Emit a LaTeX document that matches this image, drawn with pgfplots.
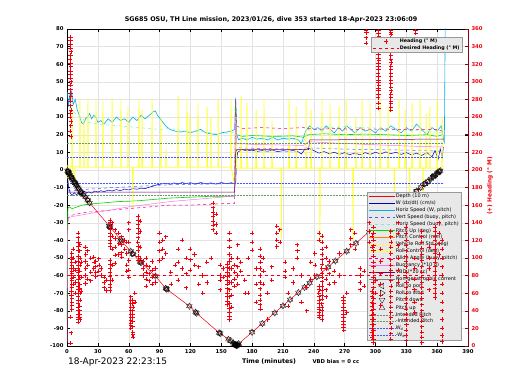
\documentclass[border=0pt]{standalone}
\usepackage{pgfplots}
\pgfplotsset{compat=1.18}
\usepackage{fontspec}
\setmainfont{DejaVu Sans}
\definecolor{vbd}{rgb}{0.42,0,0.45}
\definecolor{maroonax}{rgb}{0.55,0,0.1}
\definecolor{hred}{rgb}{0.95,0.0,0.05}
\definecolor{hzbuoy}{rgb}{0.45,0.92,0.92}
\definecolor{pinkb}{rgb}{1,0.45,0.9}
\definecolor{wblue}{rgb}{0,0,0.75}
\definecolor{bblue}{rgb}{0.25,0.35,1}
\definecolor{ylw}{rgb}{1,1,0.2}
\newcommand\tkf{\fontsize{5.3}{6}\selectfont\bfseries}
\newcommand\lgf{\fontsize{4.95}{5}\selectfont}
\pgfplotsset{
 longlegend/.style={legend image code/.code={\draw[mark repeat=2,mark phase=2,##1] plot coordinates {(0cm,0cm) (0.45cm,0cm) (0.9cm,0cm)};}},
 marklegend/.style={legend image code/.code={\draw[##1] plot coordinates {(0.45cm,0cm)};}},
 hdg/.style={hred, only marks, mark=+, mark size=2.1pt, mark options={solid, line width=0.8pt}},
 hdgf/.style={hdg, forget plot},
}
\begin{document}
\begin{tikzpicture}
\useasboundingbox (-67pt,-44pt) rectangle (453pt,346pt);
\begin{axis}[
 scale only axis, width=401pt, height=317pt,
 xmin=0,xmax=390,ymin=-100,ymax=80,
 xtick={0,30,...,390}, ytick={-100,-90,...,80},
 grid=major, grid style={gray!22, line width=0.3pt},
 tick style={black, line width=0.3pt}, major tick length=3pt,
 axis line style={line width=0.4pt},
 tick label style={font=\tkf},
 /pgf/number format/assume math mode=true,
 legend style={at={(rel axis cs:0.9825,0.019)}, anchor=south east, fill=gray!18, draw=gray!80,
   font=\lgf, inner sep=1.5pt, row sep=1.3pt, nodes={inner sep=0.5pt, text height=3.6pt, text depth=1pt}, cells={anchor=west}},
 longlegend,
]
% 1 depth
\addplot[hred, line width=0.5pt] coordinates {(0,0)(8,-7.5)(13,-12.4)(22,-18.7)(42,-32.5)(53,-40.3)(71,-52.2)(86,-60.3)(96,-67.3)(120,-77.8)(126,-81.4)(148,-92.5)(159,-97)(165,-99.7)(363,-0.5)};
\addlegendentry{Depth (10 m)}
% 2 W
\addplot[wblue, line width=0.5pt] coordinates {(0.5,-3)(1.5,-10)(3,-13)(5,-14.5)(7,-13)(9,-14)(11,-13.5)(13,-14.2)(15,-13)(17,-12.2)(19,-13)(21,-12.5)(24,-13.2)(27,-12)(30,-12.6)(33,-11.8)(36,-12.4)(40,-11.5)(44,-12)(48,-11.2)(52,-11.8)(56,-10.9)(60,-11.4)(64,-10.6)(68,-11)(72,-10.4)(76,-10.6)(80,-9.8)(84,-9.2)(88,-8.4)(92,-8)(96,-7.6)(100,-8.2)(104,-7.4)(108,-8)(112,-7.2)(116,-7.8)(120,-7.3)(125,-8)(130,-7.2)(135,-7.9)(140,-7.4)(145,-8.1)(150,-7.2)(155,-7.8)(160,-7.3)(163,-8)(164,-8)(165,6)(166,10)(170,11.5)(175,10.8)(180,11.2)(185,10.5)(190,11)(195,10.6)(200,11.1)(205,10.4)(210,10.9)(215,10.6)(220,11)(225,10.2)(228,9)(231,11.5)(235,12.2)(240,11)(245,9.5)(250,10.4)(255,9.2)(260,10)(265,8.8)(270,9.8)(275,8.6)(280,9.6)(285,8.5)(290,9.8)(295,8.8)(300,10)(305,9)(310,10.2)(315,9.2)(320,10)(325,8.8)(330,9.8)(335,8.5)(340,9.5)(345,8.2)(350,9.8)(355,7.5)(358,11)(361,6)(363,12)(365,7)(366,13)};
\addlegendentry{W (dz/dt) (cm/s)}
% 3 horiz speed W
\addplot[cyan, line width=0.6pt] coordinates {(0.5,44)(1.5,36)(2.5,42)(3.5,38)(4.5,45)(6,37)(8,40)(10,34)(12,31)(14,27)(16,26)(18,29)(20,30)(22,32)(24,29)(26,31)(28,30)(30,27)(33,28)(36,26)(40,29)(44,27)(48,30)(52,28)(56,29)(60,27)(64,30)(68,28)(72,31)(76,29)(80,31)(84,33)(86,33.5)(88,31)(92,28)(96,25)(100,23)(105,22)(110,21.5)(115,22)(120,21)(125,22)(130,23)(135,21)(140,20.5)(145,20)(150,21)(155,21.5)(160,22)(163,23)(164,41)(165,20)(167,17)(170,18)(175,17)(180,18.5)(185,17.5)(190,18)(195,17)(200,18.5)(205,17)(210,18)(215,17.5)(220,18)(225,17)(228,15)(232,22)(236,25)(240,23)(244,24)(248,22)(252,25)(256,23)(260,21)(264,24)(268,22)(272,25)(276,23)(280,21)(285,24)(290,22)(295,23)(300,21)(305,24)(310,22)(315,25)(320,23)(325,21)(330,24)(335,22)(340,26)(345,23)(350,20)(355,24)(360,22)(364,25)(367,15)(368,95)};
\addlegendentry{Horiz Speed (W, pitch)}
% 4 vert speed buoy
\addplot[bblue, dashed, line width=0.5pt] coordinates {(1,-12)(5,-11.8)(10,-11.5)(20,-11)(30,-10.6)(40,-10.2)(50,-9.9)(60,-9.6)(70,-9.3)(80,-9)(90,-8.7)(100,-8.5)(120,-8.2)(140,-8)(160,-7.8)(163,-7.8)(164,8)(166,12.5)(180,12.3)(200,12)(220,11.8)(228,11.5)(232,12.5)(250,12.2)(270,11.8)(290,11.6)(310,11.4)(330,11.2)(350,11)(365,10.5)};
\addlegendentry{Vert Speed (buoy, pitch)}
% 5 horiz speed buoy
\addplot[hzbuoy, dashed, line width=0.5pt] coordinates {(2,35)(6,33)(10,31)(15,29)(20,27)(30,26)(40,25.5)(50,25)(60,24.5)(70,24)(80,23.5)(90,23)(100,23.5)(110,22.5)(120,21.5)(130,22)(140,21)(150,20.5)(160,21)(164,22)(166,18)(180,17.5)(200,17)(220,17.5)(230,16)(235,23)(250,24)(270,24.5)(290,24)(310,23.5)(330,23)(350,22)(365,21)};
\addlegendentry{Horiz Speed (buoy, pitch)}
% 6 pitch
\addplot[green!85!black, line width=0.6pt] coordinates {(0,-85)(0.3,-50)(0.8,-22)(2,-21)(5,-22)(10,-21)(15,-20)(20,-19.5)(30,-19)(40,-18.5)(50,-18)(60,-17.8)(70,-17.5)(80,-17)(90,-16.5)(100,-16)(120,-15.5)(140,-15)(160,-15)(163,-14.5)(164,38)(165,20)(170,19)(180,19.5)(200,19)(220,19.3)(230,18.5)(235,20)(250,20.5)(270,20)(290,20.3)(310,20)(330,19.5)(350,20)(360,19)(365,20)};
\addlegendentry{Pitch Up (deg)}
\addlegendimage{orange, line width=0.5pt}
\addlegendentry{Pitch Control (mm)}
\addlegendimage{yellow!60!white, line width=0.5pt}
\addlegendentry{Vehicle Roll Std (deg)}
% 9 roll control
\addplot[ylw, line width=0.9pt] coordinates {(0,-5)(1,3)(2,-6)(3,2)(4.7,1.5)(4.9,36)(5.2,1.5)(7,-7)(8,2)(12.4,1.5)(12.6,40)(12.9,1.5)(16.3,1.5)(16.5,30)(16.8,1.5)(20.2,1.5)(20.4,41)(20.7,1.5)(28,1.5)(28.2,40)(28.5,1.5)(34.8,1.5)(35,39)(35.3,1.5)(43.6,1.5)(43.8,41)(44.1,1.5)(52.3,1.5)(52.5,40)(52.8,1.5)(59.1,1.5)(59.3,36)(59.6,1.5)(63.8,1.5)(64,-22)(64.3,1.5)(69.8,1.5)(70,40)(70.3,1.5)(72.8,1.5)(73,34)(73.3,1.5)(82.5,1.5)(82.7,40)(83,1.5)(91.2,1.5)(91.4,30)(91.7,1.5)(96.1,1.5)(96.3,12)(96.6,1.5)(107.8,1.5)(108,42)(108.3,1.5)(116.5,1.5)(116.7,40)(117,1.5)(119.4,1.5)(119.6,32)(119.9,1.5)(127.2,1.5)(127.4,38)(127.7,1.5)(136,1.5)(136.2,36)(136.5,1.5)(139.8,1.5)(140,30)(140.3,1.5)(146.8,1.5)(147,40)(147.3,1.5)(159.3,1.5)(159.5,40)(159.8,1.5)(163,-9)(163.5,1.5)(164,30)(165,1)(169.1,1)(169.3,42)(169.6,1)(174.8,1)(175,38)(175.3,1)(183.7,1)(183.9,34)(184.2,1)(191.4,1)(191.6,40)(191.9,1)(199.2,1)(199.4,28)(199.7,1)(208.3,1)(208.5,-39)(208.8,1)(215.8,1)(216,40)(216.3,1)(222.6,1)(222.8,36)(223.1,1)(232.3,1)(232.5,40)(232.8,1)(237.2,1)(237.4,34)(237.7,1)(245.8,1)(246,-41)(246.3,1)(247.8,1)(248,40)(248.3,1)(255.6,1)(255.8,38)(256.1,1)(264.4,1)(264.6,36)(264.9,1)(271.2,1)(271.4,40)(271.7,1)(278,1)(278.2,-40)(278.5,1)(280.8,1)(281,30)(281.3,1)(286.8,1)(287,40)(287.3,1)(294.5,1)(294.7,38)(295,1)(304.3,1)(304.5,40)(304.8,1)(312.1,1)(312.3,36)(312.6,1)(318,1)(318.2,-22)(318.5,1)(322.8,1)(323,40)(323.3,1)(328.6,1)(328.8,34)(329.1,1)(333,1)(333.2,-20)(333.5,1)(335.4,1)(335.6,38)(335.9,1)(343.2,1)(343.4,40)(343.7,1)(346,1)(346.2,-18)(346.5,1)(349,1)(349.2,32)(349.5,1)(352.8,1)(353,36)(353.3,1)(359.8,1)(360,40)(360.3,1)(364.6,1)(364.8,30)(365,1)};
\addlegendentry{Roll Control (deg)}
% 10 glide angle
\addplot[magenta, dashed, line width=0.5pt] coordinates {(0.5,-28)(3,-26)(10,-25)(20,-24)(30,-23.5)(40,-23)(50,-22.5)(60,-22)(70,-21.5)(80,-21)(90,-20.5)(100,-20)(120,-20)(140,-19.5)(160,-19)(163,-19)(164,40)(165,25)(170,23.5)(190,24)(210,23.5)(230,24)(240,23)(260,23.5)(280,23)(300,23.2)(320,23)(340,22.8)(360,23)(365,22)};
\addlegendentry{Glide Angle (buoy, pitch)}
% 11 buoyancy
\addplot[pinkb, line width=0.5pt] coordinates {(0,-98)(0.3,-60)(0.8,-30)(2,-27)(5,-26.5)(10,-26)(20,-25)(40,-23)(60,-21)(80,-19.5)(100,-18)(120,-17)(140,-16)(160,-15)(163,-15)(164,30)(165,15)(180,14.5)(200,14.2)(220,14)(230,13.8)(235,16)(250,15.5)(270,15)(290,14.5)(310,14)(330,13.6)(350,13.2)(365,13)};
\addlegendentry{Buoyancy (*10 g)}
% 12 VBD
\addplot[vbd, line width=0.5pt] coordinates {(1,-12.7)(163,-12.7)(164,10)(165,11.5)(235,11.5)(236,17)(366,17.5)};
\addlegendentry{VBD (*10 cc)}
\addlegendimage{gray, line width=0.5pt}
\addlegendentry{Non-geostrophic current}
% markers
\addplot[black, only marks, mark=triangle, mark size=3.3pt, mark options={rotate=90, line width=0.3pt}, marklegend] coordinates {(2,-2)(5,-5)(9,-8.5)(14,-13)(42,-32.5)(97,-67.8)(164,-99.4)(165,-99.7)(303,-30.7)(340,-12)(351,-6.5)(358,-3)(362,-1)};
\addlegendentry{Roll to port}
\addplot[black, only marks, mark=triangle, mark size=3.3pt, mark options={rotate=-90, line width=0.3pt}, marklegend] coordinates {(1,-1)(4,-4)(7,-6.8)(11,-10.5)(20,-17)(64,-47.6)(163,-99)(166,-99.3)(294,-35.2)(335,-14.5)(348,-8)(356,-4)(360,-2)};
\addlegendentry{Roll to stbd}
\addplot[black, only marks, mark=triangle, mark size=3.3pt, mark options={rotate=180, line width=0.3pt}, marklegend] coordinates {(0.5,-0.5)(1,-1)(1.5,-1.5)(2,-2)(3,-3)(4,-4)(5,-5)(6,-6)(7,-6.8)(8,-7.5)(9,-8.5)(10,-9.5)(11,-10.5)(13,-12.4)(14,-13)(16,-14.2)(18,-15.5)(20,-17)(22,-18.7)(41,-31.8)(42,-32.5)(52,-39.6)(53,-40.3)(62,-46.2)(64,-47.6)(71,-52.2)(72,-52.8)(86,-60.3)(96,-67.3)(97,-67.7)(119,-77.4)(125,-80.8)(126,-81.4)(148,-92.5)(149,-92.9)(157,-96.2)(159,-97)(162,-98.6)(163,-99)(163.5,-99.2)(164,-99.4)(164.5,-99.6)(165,-99.7)(165.5,-99.5)(166,-99.3)(167,-98.7)(180,-92.2)(190,-87.2)(202,-81.2)(210,-77.2)(217,-73.7)(225,-69.7)(231,-66.7)(236,-64.2)(243,-60.7)(254,-55.2)(261,-51.7)(272,-46.2)(281,-41.7)(294,-35.2)(303,-30.7)(318,-23)(322,-21)(330,-17)(335,-14.5)(340,-12)(344,-10)(348,-8)(351,-6.5)(354,-5)(356,-4)(358,-3)(360,-2)(362,-1)(363,-0.5)};
\addlegendentry{Pitch down}
\addplot[black, only marks, mark=triangle, mark size=3.3pt, mark options={line width=0.3pt}, marklegend] coordinates {(0.5,-0.5)(1,-1)(1.5,-1.5)(2,-2)(3,-3)(4,-4)(5,-5)(6,-6)(7,-6.8)(8,-7.5)(9,-8.5)(10,-9.5)(11,-10.5)(13,-12.4)(14,-13)(16,-14.2)(18,-15.5)(20,-17)(22,-18.7)(41,-31.8)(42,-32.5)(52,-39.6)(53,-40.3)(62,-46.2)(64,-47.6)(71,-52.2)(72,-52.8)(86,-60.3)(96,-67.3)(97,-67.7)(119,-77.4)(125,-80.8)(126,-81.4)(148,-92.5)(149,-92.9)(157,-96.2)(159,-97)(162,-98.6)(163,-99)(163.5,-99.2)(164,-99.4)(164.5,-99.6)(165,-99.7)(165.5,-99.5)(166,-99.3)(167,-98.7)(180,-92.2)(190,-87.2)(202,-81.2)(210,-77.2)(217,-73.7)(225,-69.7)(231,-66.7)(236,-64.2)(243,-60.7)(254,-55.2)(261,-51.7)(272,-46.2)(281,-41.7)(294,-35.2)(303,-30.7)(318,-23)(322,-21)(330,-17)(335,-14.5)(340,-12)(344,-10)(348,-8)(351,-6.5)(354,-5)(356,-4)(358,-3)(360,-2)(362,-1)(363,-0.5)};
\addlegendentry{Pitch up}
\addplot[gray!80!green, densely dotted, line width=0.5pt] coordinates {(0,15.3)(366,15.3)};
\addlegendentry{Intended Pitch}
\addplot[gray!80!green, densely dotted, line width=0.5pt] coordinates {(0,-14.5)(366,-14.5)};
\addlegendentry{-Intended Pitch}
\addplot[bblue, densely dotted, line width=0.5pt] coordinates {(0,7.4)(366,7.4)};
\addlegendentry{W\textsubscript{d}}
\addplot[bblue, densely dotted, line width=0.5pt] coordinates {(0,-7.6)(366,-7.6)};
\addlegendentry{-W\textsubscript{d}}
\end{axis}
\begin{axis}[
 scale only axis, width=401pt, height=317pt,
 xmin=0,xmax=390,ymin=0,ymax=360,
 axis x line=none, axis y line*=right,
 ytick={0,20,...,360},
 y axis line style={maroonax, line width=0.5pt},
 ytick style={maroonax, line width=0.4pt}, major tick length=3pt,
 yticklabel style={hred, font=\tkf},
 /pgf/number format/assume math mode=true,
 legend style={at={(rel axis cs:0.985,0.975)}, anchor=north east, fill=gray!18, draw=gray!80,
   font=\fontsize{4.8}{5}\selectfont\bfseries, inner sep=1.5pt, row sep=0.5pt, nodes={inner sep=0.6pt, text height=3.6pt, text depth=1pt}, cells={anchor=west}},
 longlegend,
]
\addplot[hdg, marklegend] coordinates {(3.5,351)(3.5,342)(3.8,334)(3.3,325)(3.6,317)(3.5,308)(3.8,300)(3.4,291)(3.6,283)(3.5,273)(3.9,268)(3.3,260)(4,255)(3.6,250)(3.2,244)(3.8,238)(3.5,33)(3.8,15)(3.5,3)(3.5,347)(3.5,338)(3.5,330)(3.5,321)(3.5,312)(3.5,304)(3.5,296)(3.5,287)(3.5,278)(3.5,264)};
\addlegendentry{Heading (° M)}
\addplot[hred, dashed, line width=0.5pt] coordinates {(0,80)(366,80)};
\addlegendentry{Desired Heading (° M)}
\addplot[hdgf] coordinates {(4.5,105)(4.5,98)(4.7,92)(4.5,85)(4.3,80)(4.6,74)(4.5,66)(4.4,58)(4.6,50)(4.5,41)(6,110)(6.2,100)(6,88)(6.3,78)(6,70)(8,95)(8.2,86)(8,72)(7.8,60)(4.5,101)(4.6,95)(4.4,88)(4.5,82)(4.6,77)(4.5,70)(4.4,62)(4.5,54)(4.6,46)};
\addplot[hdgf] coordinates {(11,128)(11.2,118)(11,108)(10.8,96)(11,88)(11.3,80)(11,72)(11.1,64)(10.9,56)(11,48)(11.2,40)(11,33)(11,27)(11,123)(11.1,113)(11,102)(11.1,92)(11,84)(11.1,76)(11,68)(11,60)(11.1,52)(11,44)(11,36)(11,30)};
\addplot[hdgf] coordinates {(12.5,115)(12.7,100)(12.5,85)(12.4,70)(12.6,60)(12.5,45)(12.5,36)(12.7,30)(14,95)(14.2,78)(14,62)(12.5,108)(12.6,92)(12.5,78)(12.5,65)(12.6,52)(12.5,40)(12.5,33)(18,112)(18.2,104)(18,96)(18.1,88)(17.9,80)(18,71)};
\addplot[hdgf] coordinates {(20,108)(20.2,92)(20,76)(23,100)(23.2,84)(23,74)(26,101)(26.2,95)(26,88)(28,96)(28.1,90)(28,84)(27.9,79)(31,99)(31.2,92)(31,85)(33,88)(33.1,80)(36,78)(36.2,72)(36,66)(38,75)(38.2,63)};
\addplot[hdgf] coordinates {(42,143)(42.1,136)(42,128)(41.9,120)(42,113)(42.2,97)(42,88)(42.1,79)(42,70)(41.9,63)(44,140)(44.1,125)(44,110)(44.2,92)(44,75)(42,140)(42,132)(42,124)(42,116)(42,93)(42,84)(42,74)(42,66)};
\addplot[hdgf] coordinates {(47,132)(47.1,122)(47,112)(46.9,103)(47,94)(50,128)(50.2,116)(50,104)(53,124)(53.1,115)(53,106)(53.2,101)(56,120)(56.1,110)(58,118)(58.2,105)(58,92)(58.1,85)(60,140)(60.1,132)(60,118)(60.2,97)(60,86)(60.1,78)};
\addplot[hdgf] coordinates {(62,56)(62.1,48)(62,40)(61.9,32)(62,26)(62.1,20)(64,52)(64.1,44)(64,36)(63.9,28)(64,16)(64.1,10)(66,60)(66.1,50)(62,52)(62,44)(62,36)(62,29)(62,23)(64,48)(64,40)(64,32)(64,22)(64,13)};
\addplot[hdgf] coordinates {(69,147)(69.1,138)(69,128)(68.9,118)(69,108)(69.1,97)(71,142)(71.1,130)(71,112)(71.2,100)(74,96)(74.1,88)(74,80)(69,143)(69,133)(69,123)(69,113)(69,102)};
\addplot[hdgf] coordinates {(77,100)(77.1,92)(77,84)(76.9,76)(77,68)(80,90)(80.1,82)(80,74)(83,96)(83.1,86)(83,78)(82.9,70)(86,88)(86.1,80)(86,72)};
\addplot[hdgf] coordinates {(90,128)(90.1,118)(90,108)(89.9,97)(93,120)(93.1,110)(93,100)(96,124)(96.1,105)(101,84)(101.1,70)(105,92)(108,110)(108.1,95)(108,75)(112,120)(112.1,88)};
\addplot[hdgf] coordinates {(116,100)(116.1,82)(116,66)(120,110)(120.1,98)(120,86)(124,104)(124.1,92)(128,90)(128.1,70)(132,80)(132.1,60)(136,95)(136.1,72)(140,100)};
\addplot[hdgf] coordinates {(142,162)(142.1,152)(142,142)(141.9,132)(145,150)(145.1,138)(145,128)(149,92)(149.1,80)(149,75)(148.9,64)(152,88)(152.1,78)(142,157)(142,147)(142,137)};
\addplot[hdgf] coordinates {(156,93)(156.1,84)(156,74)(155.9,65)(156,56)(156.1,47)(156,89)(156,79)(156,70)(156,60)(156,51)(160,100)(160.1,88)(160,72)(159.9,58)(160,44)(163,92)(163.1,84)(163,76)(162.9,68)};
\addplot[hdgf] coordinates {(158,128)(158.1,112)(158,96)(157.9,80)(158,64)(158.1,48)(158,38)(158,30)(158,120)(158,104)(158,88)(158,72)(158,56)(158,43)(158,34)};
\addplot[hdgf] coordinates {(166,115)(166.1,100)(166,90)(165.9,80)(166,70)(169,95)(169.1,85)(173,75)(173.1,60)(176,100)(176.1,60)(180,128)(180.1,118)(180,109)(184,88)(184.1,70)(184,50)};
\addplot[hdgf] coordinates {(188,110)(188.1,95)(188,80)(187.9,65)(188,52)(188.1,42)(188,102)(188,88)(188,72)(188,58)(188,47)(191,100)(191.1,85)(191,70)(195,60)(195.1,30)(199,90)(199.1,75)};
\addplot[hdgf] coordinates {(204,136)(204.1,128)(204,120)(203.9,113)(207,132)(207.1,118)(212,95)(212.1,85)(212,78)(215,60)(215.1,45)(220,88)(220.1,72)};
\addplot[hdgf] coordinates {(224,115)(224.1,108)(224,100)(228,80)(228.1,50)(233,66)(233.1,40)(237,95)(237.1,76)(241,105)(241.1,92)(241,80)};
\addplot[hdgf] coordinates {(245,128)(245.1,120)(245,68)(244.9,60)(245,52)(245.1,44)(245,38)(245,33)(245,64)(245,56)(245,48)(245,41)(245,35)};
\addplot[hdgf] coordinates {(248,125)(248.1,110)(248,98)(247.9,88)(248,78)(248.1,68)(248,58)(247.9,48)(248,40)(248.1,30)(248,118)(248,104)(248,93)(248,83)(248,73)(248,63)(248,53)(248,44)(248,35)};
\addplot[hdgf] coordinates {(252,112)(252.1,100)(252,88)(251.9,76)(252,64)(252.1,56)(255,96)(255.1,82)(255,70)(260,85)(260.1,72)(265,105)(265.1,80)};
\addplot[hdgf] coordinates {(269,55)(269.1,48)(269,40)(268.9,32)(269,25)(269.1,18)(269,52)(269,44)(269,36)(269,28)(269,21)(272,60)(272.1,38)(276,132)(276.1,122)(276,115)(280,128)(280.1,110)};
\addplot[hdgf] coordinates {(285,88)(285.1,80)(285,72)(284.9,64)(289,85)(289.1,68)(294,140)(294.1,130)(294,118)(300,75)(300.1,60)};
\addplot[hdgf] coordinates {(297,125)(297.1,112)(297,62)(296.9,50)(297,40)(297.1,30)(297,20)(297,10)(297,56)(297,45)(297,35)(297,25)(297,15)};
\addplot[hdgf] coordinates {(298,135)(298,120)(298.1,108)(298,95)(298,84)(298.1,72)(298,60)(298,48)(298.1,36)(298,24)(298,12)(298,4)(298,128)(298,114)(298,102)(298,90)(298,78)(298,66)(298,54)(298,42)(298,30)(298,18)(298,8)};
\addplot[hdgf] coordinates {(305,110)(305.1,96)(305,82)(304.9,70)(305,58)(305.1,46)(322,140)(322.1,128)(322,114)(321.9,100)(322,86)(322.1,72)};
\addplot[hdgf] coordinates {(315,130)(315.1,118)(315,105)(314.9,92)(315,80)(315.1,68)(315,56)(314.9,44)(315,32)(315.1,20)(315,8)(315,124)(315,112)(315,98)(315,86)(315,74)(315,62)(315,50)(315,38)(315,26)(315,14)};
\addplot[hdgf] coordinates {(330,135)(330.1,120)(330,108)(329.9,96)(330,84)(330.1,72)(330,60)(329.9,48)(330,36)(330.1,24)(330,12)(330,128)(330,114)(330,102)(330,90)(330,78)(330,66)(330,54)(330,42)(330,30)(330,18)(330,6)};
\addplot[hdgf] coordinates {(338,100)(338.1,88)(338,76)(337.9,64)(338,50)(338.1,38)(352,112)(352.1,100)(352,88)(351.9,76)(352,64)};
\addplot[hdgf] coordinates {(345,130)(345.1,118)(345,104)(344.9,90)(345,78)(345.1,66)(345,54)(344.9,40)(345,28)(345.1,16)(345,4)(345,124)(345,111)(345,97)(345,84)(345,72)(345,60)(345,47)(345,34)(345,22)(345,10)};
\addplot[hdgf] coordinates {(358,135)(358.1,125)(358,115)(357.9,105)(358,95)(358.1,85)(358,75)(357.9,65)(358,55)(358,130)(358,120)(358,110)(358,100)(358,90)(358,80)(358,70)(358,60)};
\addplot[hdgf] coordinates {(362,140)(362.1,128)(362,116)(361.9,104)(365,120)(365.1,100)(365,80)(364.9,60)(365,40)(365.1,20)(365,5)(365,110)(365,90)(365,70)(365,50)(365,30)(365,12)};
\addplot[hdgf] coordinates {(291,358)(291.2,356)(291,350)(290.8,344)(339,358)(339.2,355)(339,348)(338.8,342)};
\addplot[hdgf] coordinates {(303,358)(303.2,352)(303,345)(302.8,338)(303,331)(303.2,324)(303,318)(302.8,310)(303,302)(303.2,296)(303,290)(302.8,282)(303,270)(303,355)(303,348)(303,341)(303,334)(303,327)(303,321)(303,314)(303,306)(303,299)(303,293)(303,286)(303,276)};
\addplot[hdgf] coordinates {(315,358)(315.2,354)(315,346)(314.8,338)(315,330)(315.2,322)(315,314)(314.8,306)(315,298)(315.2,290)(315,282)(314.8,275)(315,268)(315,356)(315,350)(315,342)(315,334)(315,326)(315,318)(315,310)(315,302)(315,294)(315,286)(315,278)(315,271)};
\end{axis}
\node[font=\fontsize{6.4}{7}\selectfont\bfseries] at (204pt,326pt) {SG685 OSU, TH Line mission, 2023/01/26, dive 353 started 18-Apr-2023 23:06:09};
\node[font=\fontsize{6.3}{7}\selectfont\bfseries] at (202pt,-16pt) {Time (minutes)};
\node[font=\fontsize{5.3}{6}\selectfont\bfseries, anchor=west] at (242pt,-16pt) {VBD bias = 0 cc};
\node[font=\fontsize{9}{10}\selectfont, anchor=west, inner sep=0pt] at (1pt,-16.5pt) {18-Apr-2023 22:23:15};
\node[font=\fontsize{5.8}{6}\selectfont\bfseries, text=hred, rotate=90] at (423pt,160pt) {(+) Heading (° M)};
\end{tikzpicture}
\end{document}
